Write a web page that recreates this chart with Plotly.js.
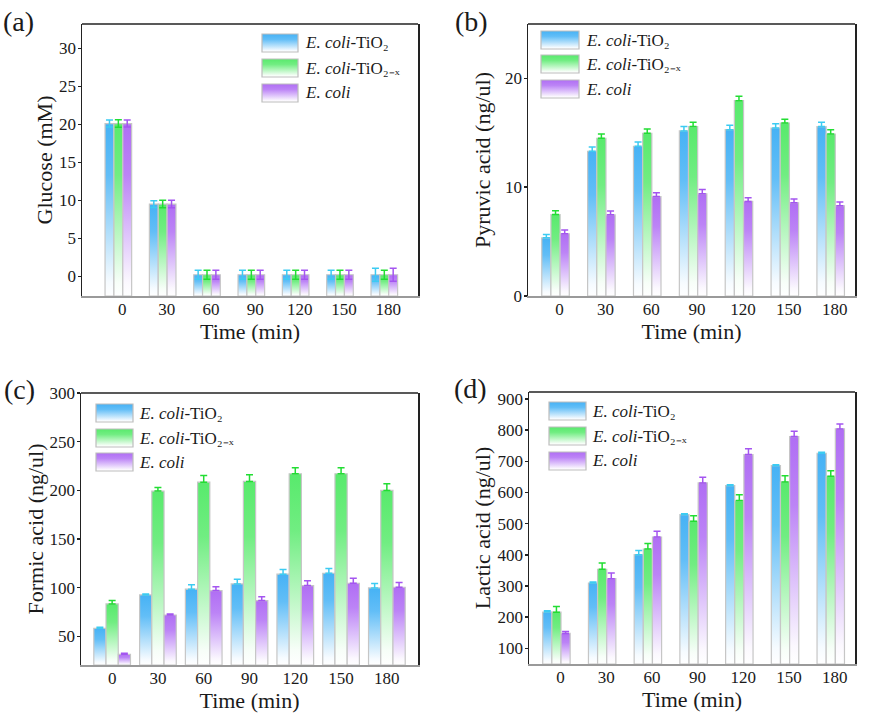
<!DOCTYPE html>
<html><head><meta charset="utf-8">
<script src="https://cdn.plot.ly/plotly-3.0.1.min.js"></script>
<style>html,body{margin:0;padding:0;background:#fff}#chart{width:874px;height:717px}</style>
</head><body><div id="chart"></div>
<script>
// ---------- data ----------
const times = ['0', '30', '60', '90', '120', '150', '180'];
const seriesNames = ['<i>E. coli</i>-TiO₂', '<i>E. coli</i>-TiO₂₋ₓ', '<i>E. coli</i>'];

// (a) Glucose (mM)
const glucoseTiO2 = [20.1, 9.5, 0.2, 0.2, 0.2, 0.2, 0.2];
const glucoseTiO2x = [20.1, 9.5, 0.2, 0.2, 0.2, 0.2, 0.2];
const glucoseEcoli = [20.1, 9.5, 0.2, 0.2, 0.2, 0.2, 0.2];
const glucoseTiO2Err = [0.45, 0.45, 0.6, 0.6, 0.6, 0.6, 0.85];
const glucoseTiO2xErr = [0.5, 0.5, 0.6, 0.6, 0.6, 0.6, 0.6];
const glucoseEcoliErr = [0.45, 0.5, 0.6, 0.6, 0.6, 0.6, 0.85];

// (b) Pyruvic acid (ng/ul)
const pyruvicTiO2 = [5.35, 13.3, 13.76, 15.17, 15.29, 15.44, 15.57];
const pyruvicTiO2x = [7.49, 14.5, 14.95, 15.57, 17.95, 15.9, 14.89];
const pyruvicEcoli = [5.72, 7.46, 9.14, 9.39, 8.69, 8.56, 8.29];
const pyruvicTiO2Err = [0.3, 0.4, 0.4, 0.4, 0.4, 0.4, 0.4];
const pyruvicTiO2xErr = [0.35, 0.4, 0.4, 0.4, 0.4, 0.35, 0.4];
const pyruvicEcoliErr = [0.35, 0.35, 0.35, 0.4, 0.35, 0.35, 0.35];

// (c) Formic acid (ng/ul)
const formicTiO2 = [58.2, 92.5, 98.4, 103.8, 113.8, 114.8, 99.7];
const formicTiO2x = [83.3, 199.2, 208.4, 209.1, 217, 217, 199.9];
const formicEcoli = [31.5, 71.9, 97, 86.7, 102.1, 104.5, 100.4];
const formicTiO2Err = [1, 1, 4.5, 4.8, 4.8, 4.8, 4.5];
const formicTiO2xErr = [3.4, 3.8, 6.9, 6.9, 6.2, 6.2, 6.9];
const formicEcoliErr = [1, 1, 4, 4, 5.1, 5.1, 4.8];

// (d) Lactic acid (ng/ul)
const lacticTiO2 = [216.6, 309.6, 400.5, 528.9, 621.9, 686, 725.7];
const lacticTiO2x = [216, 353.5, 418.7, 507.5, 573.8, 633.7, 651.9];
const lacticEcoli = [148, 323.5, 457.2, 630.5, 721.4, 779.1, 803.7];
const lacticTiO2Err = [4, 3, 13, 3, 3, 3, 3];
const lacticTiO2xErr = [18, 20, 18, 18, 19, 20, 18];
const lacticEcoliErr = [6, 18, 18, 18, 19, 17, 16];

// ---------- styling ----------
const W = 874, H = 717;
const FONT = 'Liberation Serif, Times New Roman, serif';
const barColors = ['#46b2f5', '#58ea6c', '#b06ef4'];
const errColors = ['#3ccbf2', '#22dd33', '#a455f0'];
const px = x => x / W, py = y => 1 - y / H;

const panels = [
  {vals: [glucoseTiO2, glucoseTiO2x, glucoseEcoli], errs: [glucoseTiO2Err, glucoseTiO2xErr, glucoseEcoliErr],
   ytitle: 'Glucose (mM)', box: [82, 24, 418, 296], yrange: [-2.6, 33.2], tick0: 0, dtick: 5,
   xrange: [-0.82, 6.76], bw: 0.2, both: true, shift: 4, ystand: 0,
   leg: [262, 298, 303, [43, 68, 93]], label: '(a)', lab: [18, 22]},
  {vals: [pyruvicTiO2, pyruvicTiO2x, pyruvicEcoli], errs: [pyruvicTiO2Err, pyruvicTiO2xErr, pyruvicEcoliErr],
   ytitle: 'Pyruvic acid (ng/ul)', box: [528, 24, 855, 296], yrange: [0, 25], tick0: 0, dtick: 10,
   xrange: [-0.6, 6.53], bw: 0.2, both: false, shift: 4, ystand: 8,
   leg: [541, 579, 584, [40, 64, 89]], label: '(b)', lab: [471, 22]},
  {vals: [formicTiO2, formicTiO2x, formicEcoli], errs: [formicTiO2Err, formicTiO2xErr, formicEcoliErr],
   ytitle: 'Formic acid (ng/ul)', box: [81, 393, 418, 665], yrange: [20.5, 300], tick0: 50, dtick: 50,
   xrange: [-0.68, 6.68], bw: 0.267, both: false, shift: 0, ystand: 0,
   leg: [96, 133, 137, [413, 438, 462]], label: '(c)', lab: [19, 389]},
  {vals: [lacticTiO2, lacticTiO2x, lacticEcoli], errs: [lacticTiO2Err, lacticTiO2xErr, lacticEcoliErr],
   ytitle: 'Lactic acid (ng/ul)', box: [529, 392, 855, 664], yrange: [50, 922], tick0: 100, dtick: 100,
   xrange: [-0.6, 6.53], bw: 0.2, both: false, shift: 4, ystand: 1,
   leg: [549, 586, 590, [411, 436, 461]], label: '(d)', lab: [470, 388]}
];

const traces = [];
const layout = {
  width: W, height: H, margin: {l: 0, r: 0, t: 0, b: 0},
  paper_bgcolor: '#fff', plot_bgcolor: '#fff', showlegend: false,
  font: {family: FONT, color: '#1a1a1a'},
  shapes: [], annotations: []
};
const swatchMap = {};

panels.forEach((p, i) => {
  const k = i === 0 ? '' : String(i + 1);
  const base = p.yrange[0];
  p.vals.forEach((vals, s) => {
    traces.push({
      type: 'bar', name: seriesNames[s], meta: s,
      x: times, y: vals.map(v => v - base), base: base,
      xaxis: 'x' + k, yaxis: 'y' + k,
      width: p.bw, offset: -1.5 * p.bw + s * p.bw,
      marker: {color: barColors[s], line: {color: '#c6c6c6', width: 1.2}},
      error_y: {type: 'data', symmetric: false, array: p.errs[s],
                arrayminus: p.both ? p.errs[s] : p.errs[s].map(() => 0),
                color: errColors[s], thickness: 1.5, width: 3.5}
    });
  });
  const [x0, y0, x1, y1] = p.box;
  layout['xaxis' + k] = {
    domain: [px(x0), px(x1)], anchor: 'y' + k, type: 'category', range: p.xrange,
    showline: true, linecolor: '#9a9a9a', linewidth: 1.5, mirror: false,
    ticks: '', showgrid: false, zeroline: false, ticklabelshift: p.shift, ticklabelstandoff: -3,
    tickfont: {family: FONT, size: 17, color: '#1a1a1a'},
    title: {text: 'Time (min)', font: {family: FONT, size: 22, color: '#1a1a1a'}, standoff: 0}
  };
  layout['yaxis' + k] = {
    domain: [py(y1), py(y0)], anchor: 'x' + k, range: p.yrange,
    tickmode: 'linear', tick0: p.tick0, dtick: p.dtick,
    showline: true, linecolor: '#222', linewidth: 1.5, mirror: true,
    ticks: 'outside', ticklen: 3, tickwidth: 1.5, tickcolor: '#222', ticklabelstandoff: -2,
    showgrid: false, zeroline: false,
    tickfont: {family: FONT, size: 17, color: '#1a1a1a'},
    title: {text: p.ytitle, font: {family: FONT, size: 22, color: '#1a1a1a'}, standoff: p.ystand}
  };
  // top frame line
  layout.shapes.push({type: 'line', xref: 'paper', yref: 'paper', x0: px(x0), x1: px(x1), y0: py(y0), y1: py(y0),
                      line: {color: '#222', width: 1.5}});
  // legend
  const [sx0, sx1, tx, rows] = p.leg;
  rows.forEach((cy, s) => {
    swatchMap[layout.shapes.length] = s;
    layout.shapes.push({type: 'rect', xref: 'paper', yref: 'paper', layer: 'above',
      x0: px(sx0), x1: px(sx1), y0: py(cy + 9), y1: py(cy - 9),
      fillcolor: barColors[s], line: {color: '#bdbdbd', width: 1.2}});
    layout.annotations.push({xref: 'paper', yref: 'paper', x: px(tx), y: py(cy), xanchor: 'left', yanchor: 'middle',
      showarrow: false, text: seriesNames[s], font: {family: FONT, size: 17, color: '#1a1a1a'}});
  });
  layout.annotations.push({xref: 'paper', yref: 'paper', x: px(p.lab[0]), y: py(p.lab[1]), xanchor: 'center', yanchor: 'middle',
    showarrow: false, text: p.label, font: {family: FONT, size: 28, color: '#1a1a1a'}});
});

function mix(hex, t) { // t=1 full colour, t=0 white
  const n = parseInt(hex.slice(1), 16);
  const r = (n >> 16) & 255, g = (n >> 8) & 255, b = n & 255;
  const f = c => Math.round(255 - (255 - c) * t);
  return 'rgb(' + f(r) + ',' + f(g) + ',' + f(b) + ')';
}

Plotly.newPlot('chart', traces, layout, {staticPlot: true}).then(gd => {
  const NS = 'http://www.w3.org/2000/svg';
  const svg = gd.querySelector('svg.main-svg');
  let defs = svg.querySelector('defs');
  if (!defs) { defs = document.createElementNS(NS, 'defs'); svg.insertBefore(defs, svg.firstChild); }
  const stops = [[0, 1], [0.3, 0.85], [0.65, 0.4], [0.92, 0.05], [1, 0]];
  barColors.forEach((c, s) => {
    const lg = document.createElementNS(NS, 'linearGradient');
    lg.setAttribute('id', 'barGrad' + s);
    lg.setAttribute('x1', '0'); lg.setAttribute('y1', '0'); lg.setAttribute('x2', '0'); lg.setAttribute('y2', '1');
    stops.forEach(([o, t]) => {
      const st = document.createElementNS(NS, 'stop');
      st.setAttribute('offset', o);
      st.setAttribute('stop-color', mix(c, t));
      lg.appendChild(st);
    });
    defs.appendChild(lg);
  });
  gd.querySelectorAll('.barlayer .trace').forEach(tr => {
    const cd = tr.__data__;
    const s = cd && cd[0] && cd[0].trace ? cd[0].trace.meta : null;
    if (s === null || s === undefined) return;
    tr.querySelectorAll('.points path').forEach(pth => {
      pth.style.fill = 'url(#barGrad' + s + ')';
      pth.style.fillOpacity = 1;
    });
  });
  gd.querySelectorAll('.shapelayer path').forEach(pth => {
    const idx = pth.getAttribute('data-index');
    if (idx !== null && swatchMap[idx] !== undefined) {
      pth.style.fill = 'url(#barGrad' + swatchMap[idx] + ')';
      pth.style.fillOpacity = 1;
    }
  });
});
</script>
</body></html>
